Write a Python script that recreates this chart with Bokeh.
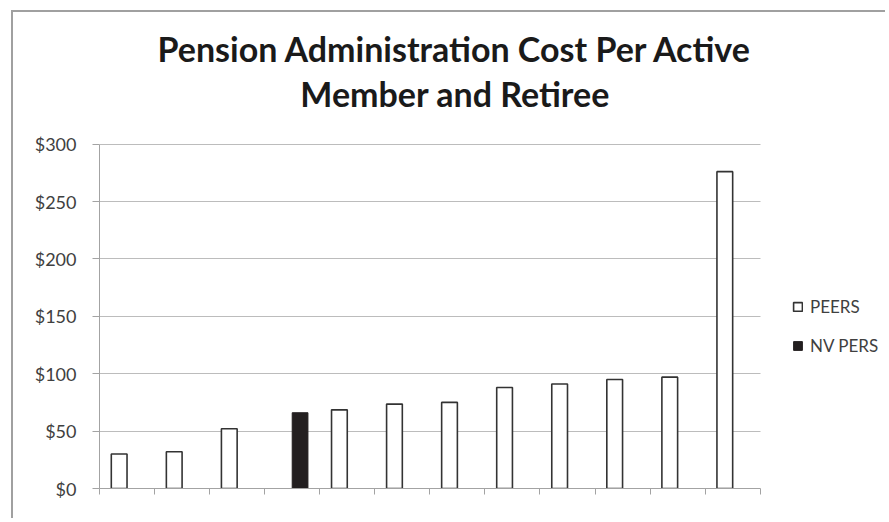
from bokeh.plotting import figure
from bokeh.models import ColumnDataSource, Legend, LegendItem, Label, FixedTicker, NumeralTickFormatter, Range1d
from bokeh.transform import dodge
from bokeh.embed import file_html
from bokeh.resources import INLINE

title_lines = ["Pension Administration Cost Per Active", "Member and Retiree"]
series_names = ["PEERS", "NV PERS"]
categories = list(range(1, 13))
peers = [30, 32, 52, None, 68.5, 73.5, 75, 88, 91, 95, 97, 276]
nv_pers = [None, None, None, 66, None, None, None, None, None, None, None, None]
y_ticks = [0, 50, 100, 150, 200, 250, 300]

FONT = "Lato"
nan = float("nan")
x_pos = [c - 0.5 for c in categories]
src = ColumnDataSource(dict(
    x=x_pos,
    peers=[nan if v is None else v for v in peers],
    nv=[nan if v is None else v for v in nv_pers],
))

# layout (pixels)
W, H = 874, 508
LEFT, BOTTOM = 86, 32
frame_w, frame_h = W - LEFT, H - BOTTOM
px_per_x = 660.7 / len(categories)
px_per_y = 344.4 / 300
x_end = frame_w / px_per_x
y_end = frame_h / px_per_y

p = figure(width=W, height=H, output_backend="svg", toolbar_location=None,
           x_range=Range1d(0, x_end), y_range=Range1d(0, y_end),
           min_border_left=LEFT, min_border_right=0, min_border_top=0, min_border_bottom=BOTTOM)
p.styles = {"border-left": "2px solid #a0a0a0", "border-top": "2px solid #a0a0a0",
            "margin-left": "11px", "margin-top": "10px"}
p.outline_line_color = None
p.background_fill_color = "white"
p.border_fill_color = "white"

bw = 1 / 3.5
r1 = p.vbar(x=dodge("x", -bw / 2), top="peers", width=bw, source=src,
            fill_color="white", line_color="#333333", line_width=1.6)
r2 = p.vbar(x=dodge("x", bw / 2), top="nv", width=bw, source=src,
            fill_color="#231f20", line_color="#231f20", line_width=1)

# axes
AX = "#a3a3a3"
p.xgrid.visible = False
p.ygrid.grid_line_color = "#bcbcbc"
p.ygrid.grid_line_width = 1
p.ygrid.bounds = (0, 300)
p.ygrid.cross_bounds = (0, len(categories))
p.yaxis.bounds = (0, 300)
p.yaxis.ticker = FixedTicker(ticks=y_ticks)
p.yaxis.formatter = NumeralTickFormatter(format="$0")
p.yaxis.minor_tick_line_color = None
p.yaxis.major_tick_in = 0
p.yaxis.major_tick_out = 7
p.yaxis.major_label_standoff = 16
p.yaxis.major_label_text_font = FONT
p.yaxis.major_label_text_font_size = "18px"
p.yaxis.major_label_text_color = "#404040"
p.yaxis.axis_line_color = AX
p.yaxis.major_tick_line_color = AX

p.xaxis.bounds = (0, len(categories))
p.xaxis.ticker = FixedTicker(ticks=list(range(0, len(categories) + 1)))
p.xaxis.major_label_overrides = {i: "" for i in range(0, len(categories) + 1)}
p.xaxis.minor_tick_line_color = None
p.xaxis.major_tick_in = 0
p.xaxis.major_tick_out = 6
p.xaxis.axis_line_color = AX
p.xaxis.major_tick_line_color = AX

# title
for line, yv in zip(title_lines, [383.0, 343.8]):
    p.add_layout(Label(x=6.46, y=yv, text=line, text_align="center", text_baseline="alphabetic",
                       text_font=FONT, text_font_style="bold", text_font_size="34px",
                       text_color="#1a1a1a"))

legend = Legend(items=[LegendItem(label=series_names[0], renderers=[r1]),
                       LegendItem(label=series_names[1], renderers=[r2])],
                location=(693, 132), orientation="vertical",
                glyph_width=11, glyph_height=11, label_height=20, spacing=18,
                padding=0, margin=0, label_standoff=7,
                label_text_font=FONT, label_text_font_size="17px", label_text_color="#404040",
                border_line_color=None, background_fill_alpha=0)
p.add_layout(legend, "center")

open("out.html", "w").write(file_html(p, INLINE))
